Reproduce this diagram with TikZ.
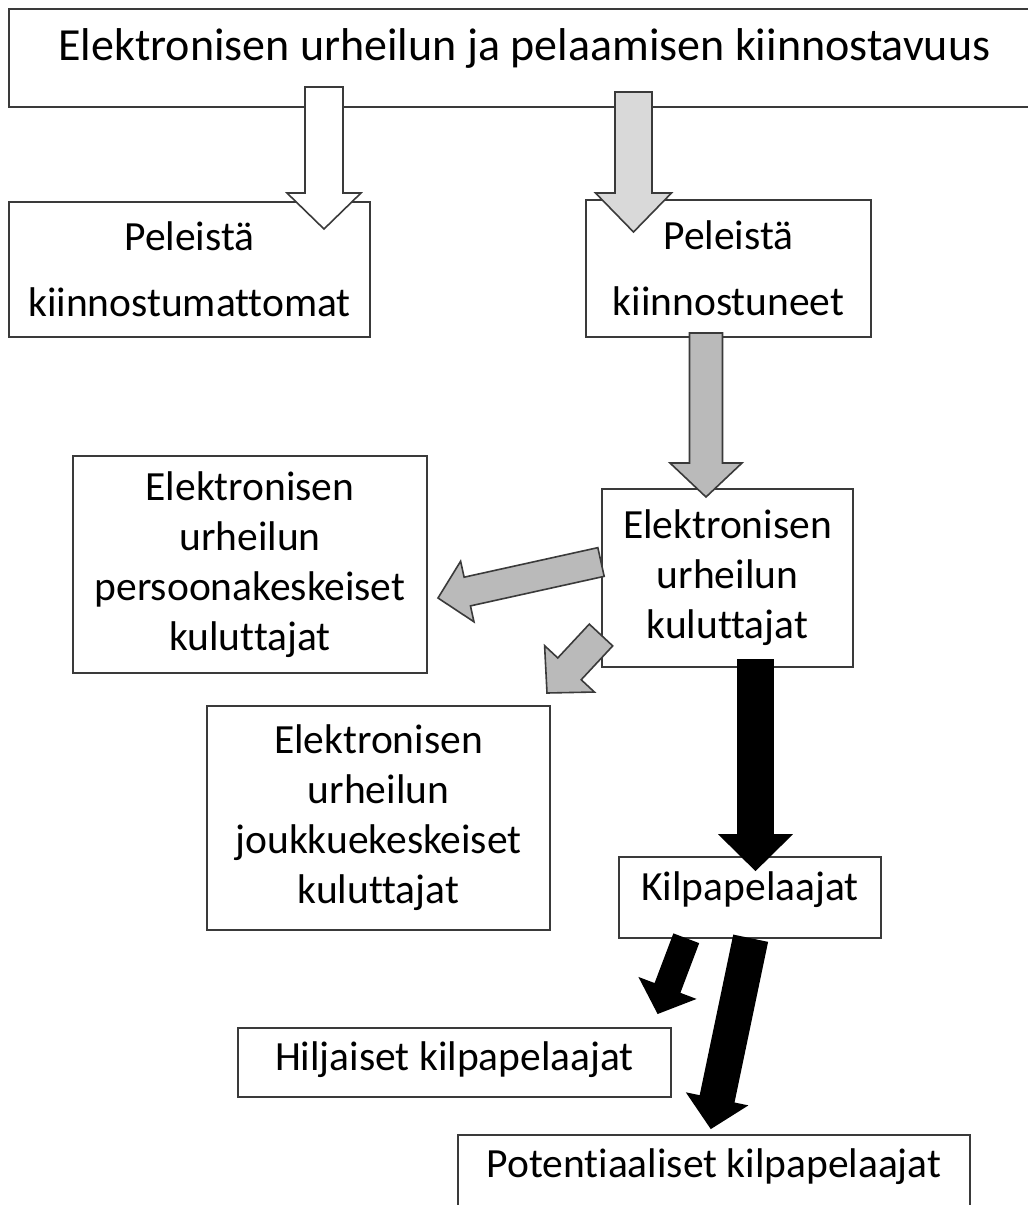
\documentclass[tikz,border=0pt]{standalone}
\usepackage{fontspec}
\setmainfont{Carlito}[Ligatures={NoCommon}]
\usetikzlibrary{calc}
\definecolor{lgray}{HTML}{D9D9D9}
\definecolor{mgray}{HTML}{BABABA}
\definecolor{edge}{HTML}{3A3A3A}
\newcommand{\blockarrow}[6][]{%
  \coordinate (bah) at ($(#3)!#6!(#2)$);
  \draw[#1] ($(#2)!#4!90:(#3)$) -- ($(bah)!#4!90:(#3)$) -- ($(bah)!#5!90:(#3)$) -- (#3)
    -- ($(bah)!#5!-90:(#3)$) -- ($(bah)!#4!-90:(#3)$) -- ($(#2)!#4!-90:(#3)$) -- cycle;}
\begin{document}
\begin{tikzpicture}[x=1pt,y=-1pt,
  box/.style={draw=edge, line width=1.6pt, fill=white, inner sep=0pt, align=center,
    font=\fontsize{41.5}{50}\selectfont},
  wide/.style={font=\fontsize{41.5}{66}\selectfont},
  arrw/.style={draw=edge, line width=1.6pt, line join=miter}]
\useasboundingbox (0,0) rectangle (1028,1205);
\fill[white] (0,0) rectangle (1028,1205);

% boxes
\node[box, minimum width=1031pt, minimum height=98pt, text height=30pt, text depth=26pt,
  font=\fontsize{46}{55}\selectfont] (title) at (524.5,58) {Elektronisen urheilun ja pelaamisen kiinnostavuus};
\node[box, wide, minimum width=361pt, minimum height=135pt] (unint) at (189.5,269.5) {Peleistä\\kiinnostumattomat};
\node[box, wide, minimum width=285pt, minimum height=137pt] (inter) at (728.5,268.5) {Peleistä\\kiinnostuneet};
\node[box, minimum width=354pt, minimum height=217pt] (persona) at (250,564.5) {Elektronisen\\urheilun\\persoonakeskeiset\\kuluttajat};
\node[box, minimum width=343pt, minimum height=224pt] (team) at (378.5,818) {Elektronisen\\urheilun\\joukkuekeskeiset\\kuluttajat};
\node[box, minimum width=251pt, minimum height=178pt] (cons) at (727.5,578) {Elektronisen\\urheilun\\kuluttajat};
\node[box, minimum width=262pt, minimum height=81pt, text height=30pt, text depth=25pt] (comp) at (750,897.5) {Kilpapelaajat};
\node[box, minimum width=433pt, minimum height=69pt, text height=30pt, text depth=14pt] (quiet) at (454.5,1062.5) {Hiljaiset kilpapelaajat};
\node[box, minimum width=512pt, minimum height=80pt, text height=30pt, text depth=25pt] (pot) at (714,1175) {Potentiaaliset kilpapelaajat};

% arrow end points
\coordinate (a1s) at (324,87);    \coordinate (a1e) at (324,229);
\coordinate (a2s) at (633.5,92);  \coordinate (a2e) at (633.5,232);
\coordinate (a3s) at (706,333);   \coordinate (a3e) at (706,497);
\coordinate (a4s) at (601,562);   \coordinate (a4e) at (438,598);
\coordinate (a5s) at (601,635);   \coordinate (a5e) at (547,693);
\coordinate (a6s) at (755.5,660); \coordinate (a6e) at (755.5,870);
\coordinate (a7s) at (686,939);   \coordinate (a7e) at (658,1013);
\coordinate (a8s) at (750.5,939); \coordinate (a8e) at (711,1128);

% block arrows
\blockarrow[arrw, fill=white]{a1s}{a1e}{19pt}{37pt}{36pt}
\blockarrow[arrw, fill=lgray]{a2s}{a2e}{18.5pt}{38pt}{39pt}
\blockarrow[arrw, fill=mgray]{a3s}{a3e}{16.5pt}{36pt}{34pt}
\blockarrow[arrw, fill=mgray]{a4s}{a4e}{14.7pt}{31pt}{30pt}
\blockarrow[arrw, fill=mgray]{a5s}{a5e}{16pt}{34pt}{33pt}
\blockarrow[arrw, fill=black, draw=black]{a6s}{a6e}{17.5pt}{35.5pt}{35pt}
\blockarrow[arrw, fill=black, draw=black]{a7s}{a7e}{13pt}{29pt}{26pt}
\blockarrow[arrw, fill=black, draw=black]{a8s}{a8e}{17pt}{30pt}{29pt}
\end{tikzpicture}
\end{document}
